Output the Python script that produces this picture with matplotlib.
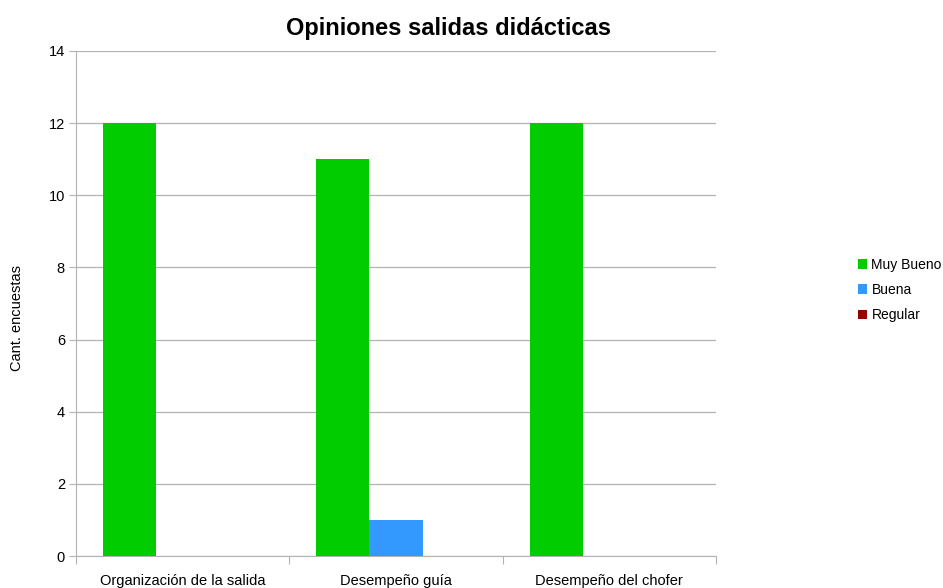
import matplotlib
matplotlib.use("Agg")
import matplotlib.pyplot as plt
import numpy as np

categories = ["Organización de la salida", "Desempeño guía", "Desempeño del chofer"]
series_names = ["Muy Bueno", "Buena", "Regular"]
muy_bueno = [12, 11, 12]
buena = [0, 1, 0]
regular = [0, 0, 0]
colors = ["#00cc00", "#3399ff", "#990000"]

plt.rcParams['font.family'] = ['Liberation Sans', 'DejaVu Sans']

fig = plt.figure(figsize=(9.43, 5.88), dpi=100)
ax = fig.add_axes([76/943, 32/588, 640/943, 505/588])

x = np.arange(len(categories))
w = 0.249
for k, (vals, name, c) in enumerate(zip([muy_bueno, buena, regular], series_names, colors)):
    ax.bar(x + (k - 1) * w, vals, width=w, color=c, label=name, zorder=3)

ax.set_xlim(-0.5, 2.5)
ax.set_ylim(0, 14)
ax.set_yticks(range(0, 15, 2))
ax.set_xticks([-0.5, 0.5, 1.5, 2.5])
ax.set_xticklabels([])
ax.set_xticks(x, minor=True)
ax.set_xticklabels(categories, minor=True, fontsize=10.5)
ax.tick_params(axis='x', which='minor', length=0, pad=13)
ax.tick_params(axis='x', which='major', length=6, color='#b3b3b3')
ax.tick_params(axis='y', length=5, color='#b3b3b3', labelsize=10.5, pad=3)
ax.grid(axis='y', color='#b3b3b3', linewidth=0.9, zorder=0)
for s in ['top', 'right']:
    ax.spines[s].set_visible(False)
for s in ['left', 'bottom']:
    ax.spines[s].set_color('#b3b3b3')

fig.text(17/943, 1 - 318/588, "Cant. encuestas", fontsize=10.5, rotation=90,
         ha='center', va='center')
fig.text(448/943, 1 - 28/588, "Opiniones salidas didácticas", fontsize=17,
         fontweight='bold', ha='center', va='center')

leg = fig.legend(loc='center left', bbox_to_anchor=(845/943, 1 - 290/588),
                 frameon=False, fontsize=10, handlelength=0.65, handleheight=0.65,
                 handletextpad=0.35, labelspacing=0.8)

fig.savefig("out.png", dpi=100)
